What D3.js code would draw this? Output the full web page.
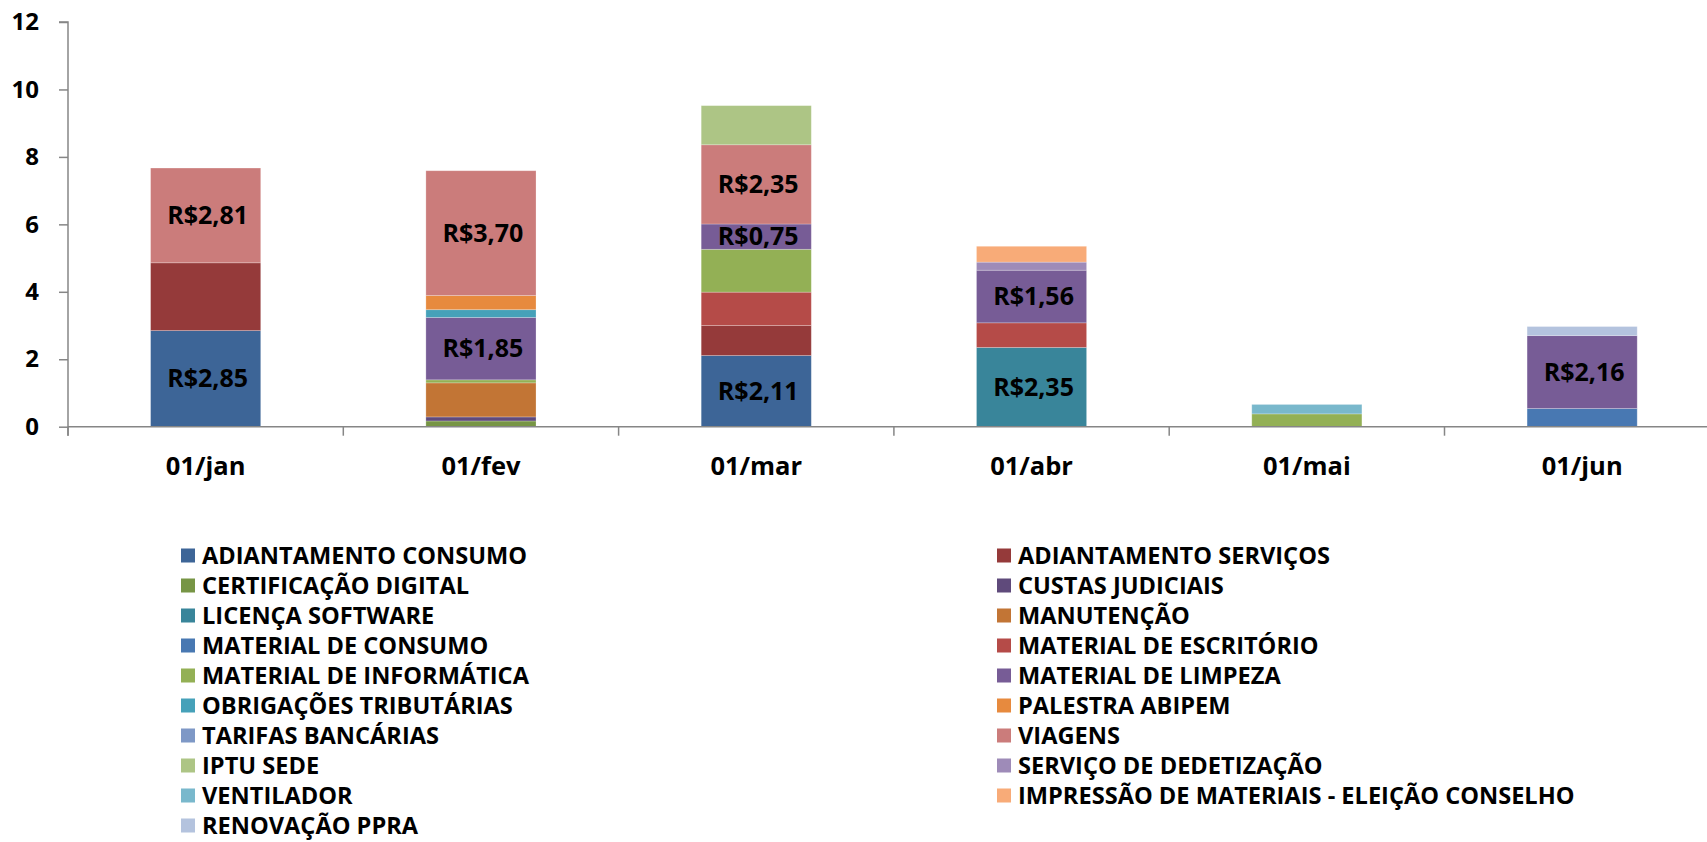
<!DOCTYPE html>
<html>
<head>
<meta charset="utf-8">
<script src="https://cdn.jsdelivr.net/npm/d3@7"></script>
<style>
  body { margin: 0; background: #fff; }
  text { font-family: 'Open Sans', 'Segoe UI', sans-serif; font-weight: bold; }
</style>
</head>
<body>
<div id="viz-container"></div>
<script>
let width = 1707;
let height = 842;

// months on the x axis
let meses = ['01/jan', '01/fev', '01/mar', '01/abr', '01/mai', '01/jun'];

// one array per expense type, values per month
let adiantamentoConsumo = [2.85, 0, 2.11, 0, 0, 0];
let adiantamentoServicos = [2.01, 0, 0.89, 0, 0, 0];
let certificacaoDigital = [0, 0.17, 0, 0, 0, 0];
let custasJudiciais = [0, 0.12, 0, 0, 0, 0];
let licencaSoftware = [0, 0, 0, 2.35, 0, 0];
let manutencao = [0, 1.01, 0, 0, 0, 0];
let materialConsumo = [0, 0, 0, 0, 0, 0.54];
let materialEscritorio = [0, 0, 0.99, 0.73, 0, 0];
let materialInformatica = [0, 0.09, 1.27, 0, 0.38, 0];
let materialLimpeza = [0, 1.85, 0.75, 1.56, 0, 2.16];
let obrigacoesTributarias = [0, 0.23, 0, 0, 0, 0];
let palestraAbipem = [0, 0.42, 0, 0, 0, 0];
let tarifasBancarias = [0, 0, 0, 0, 0, 0];
let viagens = [2.81, 3.70, 2.35, 0, 0, 0];
let iptuSede = [0, 0, 1.16, 0, 0, 0];
let dedetizacao = [0, 0, 0, 0.24, 0, 0];
let ventilador = [0, 0, 0, 0, 0.28, 0];
let impressao = [0, 0, 0, 0.47, 0, 0];
let renovacaoPpra = [0, 0, 0, 0, 0, 0.27];

let categorias = ['ADIANTAMENTO CONSUMO', 'ADIANTAMENTO SERVIÇOS', 'CERTIFICAÇÃO DIGITAL', 'CUSTAS JUDICIAIS',
  'LICENÇA SOFTWARE', 'MANUTENÇÃO', 'MATERIAL DE CONSUMO', 'MATERIAL DE ESCRITÓRIO', 'MATERIAL DE INFORMÁTICA',
  'MATERIAL DE LIMPEZA', 'OBRIGAÇÕES TRIBUTÁRIAS', 'PALESTRA ABIPEM', 'TARIFAS BANCÁRIAS', 'VIAGENS', 'IPTU SEDE',
  'SERVIÇO DE DEDETIZAÇÃO', 'VENTILADOR', 'IMPRESSÃO DE MATERIAIS - ELEIÇÃO CONSELHO', 'RENOVAÇÃO PPRA'];

let series = [adiantamentoConsumo, adiantamentoServicos, certificacaoDigital, custasJudiciais, licencaSoftware,
  manutencao, materialConsumo, materialEscritorio, materialInformatica, materialLimpeza, obrigacoesTributarias,
  palestraAbipem, tarifasBancarias, viagens, iptuSede, dedetizacao, ventilador, impressao, renovacaoPpra];

// only these series show their value labels
let comRotulo = ['ADIANTAMENTO CONSUMO', 'LICENÇA SOFTWARE', 'MATERIAL DE LIMPEZA', 'VIAGENS'];

let yTicks = [0, 2, 4, 6, 8, 10, 12];

let cores = ['#3d6597', '#953a3a', '#779545', '#5f4a7b', '#39859a', '#c27535', '#4878b2', '#b54b48', '#93b055',
  '#775c96', '#46a1b9', '#e78a3e', '#7e98c6', '#cb7c7b', '#adc585', '#9e8bb8', '#79b8cc', '#f8ab78', '#b4c3de'];

// build a table for d3.stack
let tabela = meses.map(function(m, i) {
  let row = { mes: m };
  categorias.forEach(function(c, j) { row[c] = series[j][i]; });
  return row;
});

let plotLeft = 68;
let plotTop = 22;
let plotBottom = 426.7;
let plotRight = plotLeft + 6 * 275.3;

let viz = d3.select('#viz-container')
  .append('svg')
  .attr('width', width)
  .attr('height', height);

let x = d3.scaleBand().domain(meses).range([plotLeft, plotRight]).paddingInner(0.6).paddingOuter(0.3);
let y = d3.scaleLinear().domain([0, 12]).range([plotBottom, plotTop]);
let color = d3.scaleOrdinal().domain(categorias).range(cores);

let stacked = d3.stack().keys(categorias)(tabela);

let groups = viz.selectAll('.serie').data(stacked).enter()
  .append('g')
  .attr('class', 'serie')
  .attr('fill', d => color(d.key));

groups.selectAll('rect').data(d => d).enter()
  .append('rect')
  .attr('x', d => x(d.data.mes))
  .attr('width', x.bandwidth())
  .attr('y', d => y(d[1]))
  .attr('height', d => y(d[0]) - y(d[1]))
  .attr('stroke', 'rgba(255,255,255,0.3)')
  .attr('stroke-width', 0.8);

// value labels
let rotulos = [];
stacked.forEach(function(s) {
  if (comRotulo.indexOf(s.key) < 0) return;
  s.forEach(function(d) {
    if (d[1] - d[0] > 0) rotulos.push({ mes: d.data.mes, y0: d[0], y1: d[1], v: d[1] - d[0] });
  });
});

viz.selectAll('.rotulo').data(rotulos).enter()
  .append('text')
  .attr('class', 'rotulo')
  .attr('x', d => x(d.mes) + x.bandwidth() / 2 + 2)
  .attr('y', d => y((d.y0 + d.y1) / 2))
  .attr('dy', '0.35em')
  .attr('text-anchor', 'middle')
  .attr('font-size', 25)
  .attr('fill', '#000')
  .text(d => 'R$' + d.v.toFixed(2).replace('.', ','));

// y axis
let yAxis = viz.append('g')
  .attr('transform', 'translate(' + plotLeft + ',0)')
  .call(d3.axisLeft(y).tickValues(yTicks).tickSize(9).tickPadding(20));
yAxis.selectAll('text').attr('font-size', 24).attr('fill', '#000');
yAxis.selectAll('line, path').attr('stroke', '#868686').attr('stroke-width', 1.5);
yAxis.select('.domain').attr('d', 'M-9,' + plotTop + 'H0V' + (plotBottom + 9));

// x axis, ticks between categories like excel
let xb = d3.scaleLinear().domain([0, 6]).range([plotLeft, plotRight]);
viz.append('line')
  .attr('x1', plotLeft).attr('x2', plotRight)
  .attr('y1', plotBottom).attr('y2', plotBottom)
  .attr('stroke', '#868686').attr('stroke-width', 1.5);

viz.selectAll('.xtick').data(d3.range(0, 7)).enter()
  .append('line')
  .attr('class', 'xtick')
  .attr('x1', d => xb(d)).attr('x2', d => xb(d))
  .attr('y1', plotBottom).attr('y2', plotBottom + 9)
  .attr('stroke', '#868686').attr('stroke-width', 1.5);

viz.selectAll('.xlabel').data(meses).enter()
  .append('text')
  .attr('class', 'xlabel')
  .attr('x', d => x(d) + x.bandwidth() / 2)
  .attr('y', 475)
  .attr('text-anchor', 'middle')
  .attr('font-size', 25.5)
  .attr('fill', '#000')
  .text(d => d);

// legend, two columns row by row
let legend = viz.selectAll('.legenda').data(categorias).enter()
  .append('g')
  .attr('class', 'legenda')
  .attr('transform', function(d, i) {
    let col = i % 2;
    let row = Math.floor(i / 2);
    return 'translate(' + (col == 0 ? 181 : 997) + ',' + (555.5 + row * 30) + ')';
  });

legend.append('rect')
  .attr('x', 0).attr('y', -7)
  .attr('width', 14).attr('height', 14)
  .attr('fill', d => color(d));

legend.append('text')
  .attr('x', 21)
  .attr('dy', '0.35em')
  .attr('font-size', 23.6)
  .attr('fill', '#000')
  .text(d => d);
</script>
</body>
</html>
